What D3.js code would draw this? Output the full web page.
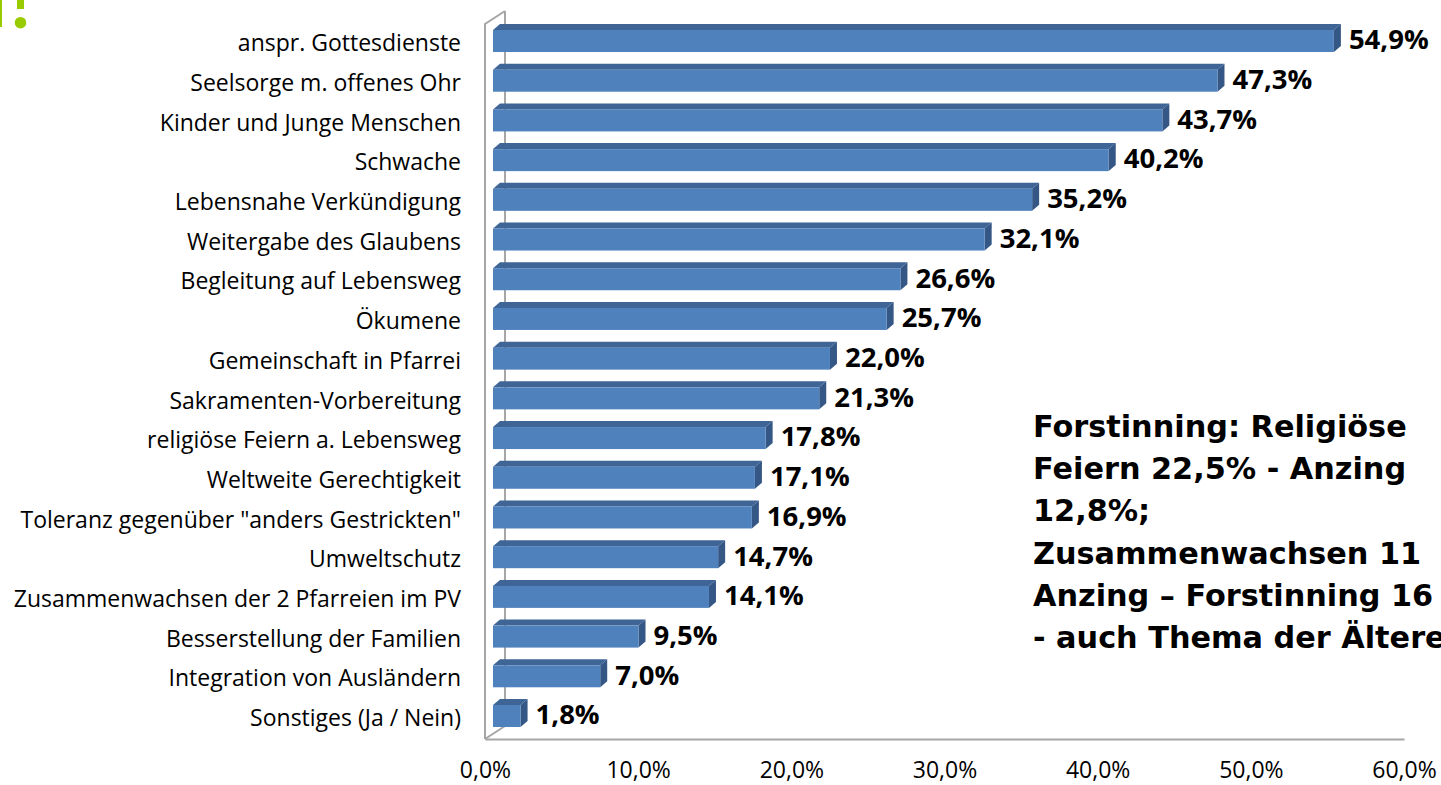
<!DOCTYPE html>
<html><head><meta charset="utf-8">
<script src="https://cdn.jsdelivr.net/npm/d3@7"></script>
<style>body{margin:0;background:#fff;overflow:hidden}</style>
</head><body>
<script>
const categories = [
  "anspr. Gottesdienste",
  "Seelsorge m. offenes Ohr",
  "Kinder und Junge Menschen",
  "Schwache",
  "Lebensnahe Verkündigung",
  "Weitergabe des Glaubens",
  "Begleitung auf Lebensweg",
  "Ökumene",
  "Gemeinschaft in Pfarrei",
  "Sakramenten-Vorbereitung",
  "religiöse Feiern a. Lebensweg",
  "Weltweite Gerechtigkeit",
  "Toleranz gegenüber \"anders Gestrickten\"",
  "Umweltschutz",
  "Zusammenwachsen der 2 Pfarreien im PV",
  "Besserstellung der Familien",
  "Integration von Ausländern",
  "Sonstiges (Ja / Nein)"
];
const values = [54.9, 47.3, 43.7, 40.2, 35.2, 32.1, 26.6, 25.7, 22.0, 21.3, 17.8, 17.1, 16.9, 14.7, 14.1, 9.5, 7.0, 1.8];
const tickValues = [0, 10, 20, 30, 40, 50, 60];
const noteLines = [
  "Forstinning: Religiöse",
  "Feiern 22,5% - Anzing",
  "12,8%;",
  "Zusammenwachsen 11",
  "Anzing – Forstinning 16",
  "- auch Thema der Älteren"
];

const W = 1441, H = 785;
const svg = d3.select("body").append("svg").attr("width", W).attr("height", H);
const fmt = v => d3.format(".1f")(v).replace(".", ",") + "%";

const x = d3.scaleLinear().domain([0, 60]).range([485, 1404]);
const y = d3.scalePoint().domain(categories).range([41, 716]);
const floorY = 739, topY = 24;
const wall = {dx: 20, dy: -13};
const barOff = 8;
const bd = {dx: 7, dy: -6};
const bh = 22;

// green mark top-left
const green = "#99cc00";
svg.append("rect").attr("x", 0).attr("y", 0).attr("width", 2).attr("height", 27).attr("fill", green);
svg.append("rect").attr("x", 17).attr("y", 0).attr("width", 7).attr("height", 9).attr("fill", green);
svg.append("circle").attr("cx", 20.5).attr("cy", 22.7).attr("r", 5.8).attr("fill", green);

// walls
const wallColor = "#a6a6a6";
const wallG = svg.append("g").attr("stroke", wallColor).attr("stroke-width", 2).attr("fill", "none");
const x0 = x(0);
wallG.append("path").attr("d", d3.line()([
  [x0 + wall.dx, floorY + wall.dy], [x0 + wall.dx, topY + wall.dy]
]));
wallG.append("path").attr("d", d3.line()([
  [x0, floorY], [x0, topY], [x0 + wall.dx, topY + wall.dy]
]));
wallG.append("path").attr("d", d3.line()([
  [x0, floorY], [x0 + wall.dx, floorY + wall.dy]
]));

// axis
const axis = svg.append("g").attr("transform", `translate(0,${floorY})`)
  .call(d3.axisBottom(x).tickValues(tickValues).tickFormat(fmt).tickSize(0).tickSizeOuter(0).tickPadding(23));
axis.select(".domain").attr("stroke", wallColor).attr("stroke-width", 2);
axis.selectAll("text").attr("font-family", "'Open Sans', sans-serif").attr("font-size", 23).attr("fill", "#000");

// bars
const bars = svg.append("g").selectAll("g").data(categories.map((c, i) => ({c, v: values[i]}))).join("g");
bars.each(function(d) {
  const g = d3.select(this);
  const xa = x(0) + barOff, xb = x(d.v) + barOff;
  const yt = y(d.c) - bh / 2, yb = y(d.c) + bh / 2;
  g.append("path").attr("fill", "#3f6597").attr("d", d3.line()([
    [xa, yt], [xa + bd.dx, yt + bd.dy], [xb + bd.dx, yt + bd.dy], [xb, yt]
  ]) + "Z");
  g.append("path").attr("fill", "#345785").attr("d", d3.line()([
    [xb, yt], [xb + bd.dx, yt + bd.dy], [xb + bd.dx, yb + bd.dy], [xb, yb]
  ]) + "Z");
  g.append("rect").attr("x", xa).attr("y", yt).attr("width", xb - xa).attr("height", bh).attr("fill", "#4f81bd");
  g.append("text").attr("x", xb + bd.dx + 8).attr("y", y(d.c) + 1)
    .attr("dominant-baseline", "middle")
    .attr("font-family", "'Open Sans', sans-serif").attr("font-weight", "bold").attr("font-size", 27.5)
    .attr("fill", "#000").text(fmt(d.v));
});

// category labels
svg.append("g").selectAll("text").data(categories).join("text")
  .attr("x", 461).attr("y", d => y(d) + 4)
  .attr("text-anchor", "end").attr("dominant-baseline", "middle")
  .attr("font-family", "'Open Sans', sans-serif").attr("font-size", 23).attr("fill", "#000")
  .text(d => d);

// annotation
svg.append("g").selectAll("text").data(noteLines).join("text")
  .attr("x", 1033).attr("y", (d, i) => 437 + i * 42.2)
  .attr("font-family", "'DejaVu Sans', sans-serif").attr("font-weight", "bold").attr("font-size", 30.3)
  .attr("fill", "#000").text(d => d);
</script>
</body></html>
